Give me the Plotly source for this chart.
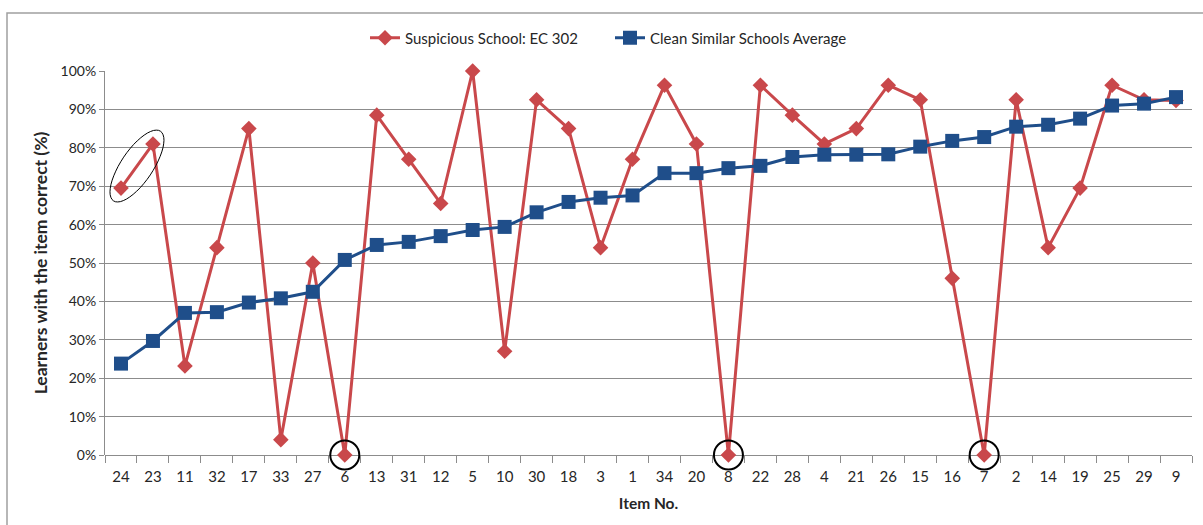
import math
import plotly.graph_objects as go

# ---- data ----
items = ["24", "23", "11", "32", "17", "33", "27", "6", "13", "31", "12", "5",
         "10", "30", "18", "3", "1", "34", "20", "8", "22", "28", "4", "21",
         "26", "15", "16", "7", "2", "14", "19", "25", "29", "9"]
suspicious = [69.5, 81.0, 23.2, 54.0, 85.0, 4.0, 50.0, 0.0, 88.5, 77.0, 65.5, 100.0,
              27.0, 92.5, 85.0, 54.0, 77.0, 96.3, 81.0, 0.0, 96.3, 88.5, 81.0, 85.0,
              96.3, 92.5, 46.0, 0.0, 92.5, 54.0, 69.5, 96.3, 92.5, 92.3]
clean_avg = [23.8, 29.7, 37.0, 37.2, 39.7, 40.8, 42.5, 50.8, 54.7, 55.5, 57.0, 58.6,
             59.4, 63.2, 65.9, 67.0, 67.6, 73.4, 73.4, 74.7, 75.3, 77.6, 78.2, 78.2,
             78.3, 80.3, 81.8, 82.8, 85.5, 86.0, 87.6, 91.0, 91.5, 93.2]

RED = "#C9484B"
BLUE = "#1F4E8A"
GRID = "#8C8C8C"
INK = "#262626"
FONT = "Lato, 'Open Sans', sans-serif"

W, H = 1203, 525
M = dict(l=105, r=11, t=71, b=70)
pw = W - M["l"] - M["r"]
ph = H - M["t"] - M["b"]

fig = go.Figure()
fig.add_trace(go.Scatter(
    x=items, y=[v / 100 for v in suspicious], name="Suspicious School: EC 302",
    mode="lines+markers", line=dict(color=RED, width=3), cliponaxis=False,
    marker=dict(symbol="diamond", size=12, color=RED)))
fig.add_trace(go.Scatter(
    x=items, y=[v / 100 for v in clean_avg], name="Clean Similar Schools Average",
    mode="lines+markers", line=dict(color=BLUE, width=3), cliponaxis=False,
    marker=dict(symbol="square", size=14, color=BLUE)))

# black rings around the zero-score items
zero_items = [it for it, v in zip(items, suspicious) if v == 0]
fig.add_trace(go.Scatter(
    x=zero_items, y=[0] * len(zero_items), mode="markers", showlegend=False,
    cliponaxis=False, hoverinfo="skip",
    marker=dict(symbol="circle-open", size=29, color="black", line=dict(width=2))))

shapes = []
# tilted ellipse around the first two points
a, b = 42, 16
ang = math.radians(56)
pts = []
for k in range(49):
    t = 2 * math.pi * k / 48
    ex, ey = a * math.cos(t), b * math.sin(t)
    px = ex * math.cos(ang) - ey * math.sin(ang)
    py = ex * math.sin(ang) + ey * math.cos(ang)
    pts.append(f"{px:.1f},{py:.1f}")
shapes.append(dict(type="path", xref="x", yref="y", xsizemode="pixel", ysizemode="pixel",
                   xanchor=0.5, yanchor=(suspicious[0] + suspicious[1]) / 200,
                   path="M" + " L".join(pts) + " Z", line=dict(color="black", width=1)))

# outer chart border (pixel edges converted to paper fractions; bottom/right run off the page)
shapes.append(dict(type="rect", xref="paper", yref="paper",
                   x0=(7 - M["l"]) / pw, x1=(W + 5 - M["l"]) / pw,
                   y0=-(H + 5 - (H - M["b"])) / ph, y1=1 + (M["t"] - 13) / ph,
                   line=dict(color="#A0A0A0", width=1.5)))

fig.update_layout(
    width=W, height=H, margin=M, shapes=shapes,
    paper_bgcolor="white", plot_bgcolor="white",
    font=dict(family=FONT, color=INK, size=14),
    showlegend=True,
    legend=dict(orientation="h", xref="container", x=610 / W, xanchor="center",
                yref="container", y=1 - 38 / H, yanchor="middle",
                font=dict(size=15), itemwidth=30, entrywidth=200),
)
fig.update_xaxes(type="category", range=[-0.5, len(items) - 0.5], automargin=False,
                 showgrid=False, showline=False, ticks="outside", tickson="boundaries",
                 ticklen=7, tickcolor=GRID, ticklabelstandoff=11,
                 tickfont=dict(size=15, color=INK),
                 title=dict(text="<b>Item No.</b>", font=dict(size=15.5), standoff=14))
fig.update_yaxes(range=[0, 1], dtick=0.1, tickformat=".0%", showgrid=True, automargin=False,
                 gridcolor=GRID, gridwidth=1, zeroline=True, zerolinecolor=GRID,
                 zerolinewidth=1, showline=True, linecolor=GRID, linewidth=1,
                 ticks="outside", ticklen=5, tickcolor=GRID,
                 tickfont=dict(size=14, color=INK),
                 title=dict(text="<b>Learners with the item correct (%)</b>",
                            font=dict(size=17.5), standoff=8))

fig.write_html("out.html", config={"displayModeBar": False},
               post_script="document.body.style.margin='0';")
